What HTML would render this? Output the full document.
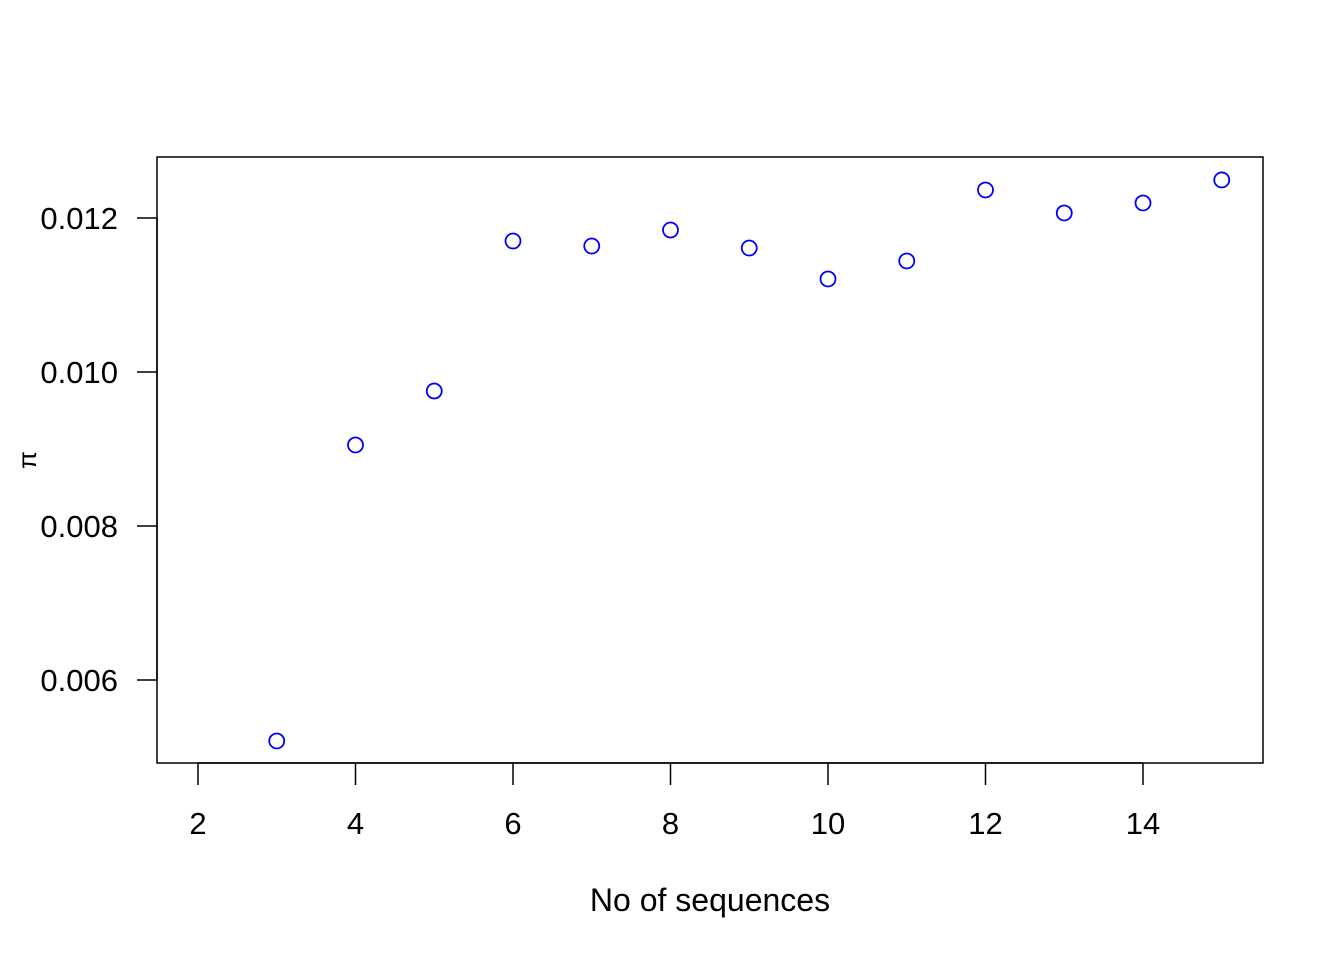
<!DOCTYPE html>
<html><head><meta charset="utf-8"><style>
html,body{margin:0;padding:0;background:#fff;}
svg{display:block;font-family:"Liberation Sans",Arial,sans-serif;}
</style></head><body>
<svg id="chart" width="1344" height="960" viewBox="0 0 1344 960" xmlns="http://www.w3.org/2000/svg">
<rect x="157" y="157" width="1106" height="606" fill="none" stroke="#000" stroke-width="1.5"/>
<g id="xaxis"></g>
<g id="yaxis"></g>
<g id="points"></g>
<text x="710" y="911" font-size="32" text-anchor="middle">No of sequences</text>
<text x="0" y="0" font-size="26" text-anchor="middle" transform="translate(36,460) rotate(-90)">π</text>
</svg>
<script>
const xValues = [3,4,5,6,7,8,9,10,11,12,13,14,15];
const piValues = [0.005208,0.009052,0.009753,0.011701,0.011636,0.011844,0.011610,0.011208,0.011442,0.012364,0.012065,0.012195,0.012494];
const xTicks = [2,4,6,8,10,12,14];
const yTicks = [0.006,0.008,0.010,0.012];
const yTickLabels = ["0.006","0.008","0.010","0.012"];

const NS = "http://www.w3.org/2000/svg";
function sx(v){ return 198 + (v-2)*78.75; }
function sy(v){ return 680 - (v-0.006)*77000; }
function mk(tag, attrs, parent){
  const e = document.createElementNS(NS, tag);
  for (const k in attrs) e.setAttribute(k, attrs[k]);
  parent.appendChild(e);
  return e;
}
const xg = document.getElementById('xaxis');
const yg = document.getElementById('yaxis');
const pg = document.getElementById('points');
mk('line',{x1:sx(xTicks[0]),x2:sx(xTicks[xTicks.length-1]),y1:763,y2:763,stroke:'#000','stroke-width':1.5},xg);
xTicks.forEach(t=>{
  const l = mk('line',{x1:sx(t),x2:sx(t),y1:763,y2:785,stroke:'#000','stroke-width':1.5},xg);
  
  
  const tx = mk('text',{x:sx(t),y:834,'font-size':31,'text-anchor':'middle'},xg);
  tx.textContent = t;
  
  
});
mk('line',{x1:157,x2:157,y1:sy(yTicks[0]),y2:sy(yTicks[yTicks.length-1]),stroke:'#000','stroke-width':1.5},yg);
yTicks.forEach((t,i)=>{
  const l = mk('line',{x1:137,x2:157,y1:sy(t),y2:sy(t),stroke:'#000','stroke-width':1.5},yg);
  
  
  const tx = mk('text',{x:118,y:sy(t)+11,'font-size':31,'text-anchor':'end'},yg);
  tx.textContent = yTickLabels[i];
  
  
});
xValues.forEach((x,i)=>{
  const c = mk('circle',{cx:sx(x),cy:sy(piValues[i]),r:7.5,fill:'none',stroke:'#0000ff','stroke-width':1.8},pg);
  
  
});
</script>
</body></html>
